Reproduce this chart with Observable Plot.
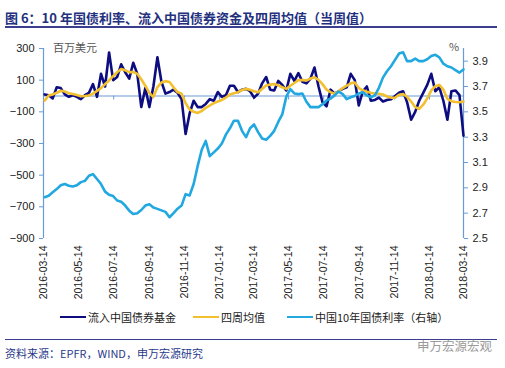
<!DOCTYPE html>
<html><head><meta charset="utf-8">
<script src="https://cdn.jsdelivr.net/npm/d3@7"></script>
<script src="https://cdn.jsdelivr.net/npm/@observablehq/plot@0.6"></script>
<style>
body{margin:0;background:#fff;}
#wrap{position:relative;width:505px;height:368px;overflow:hidden;background:#fff;font-family:"Liberation Sans",Arial,"Noto Sans CJK SC",sans-serif;}
#title{position:absolute;left:5px;top:10px;font:bold 13px/16px "Noto Sans CJK SC","Liberation Sans",sans-serif;color:#23307e;white-space:nowrap;}
.hr{position:absolute;left:5px;width:492px;height:1.5px;background:#3b3d8f;}
#chart{position:absolute;left:0;top:30px;}
.unit{position:absolute;font:11px "Noto Sans CJK SC",sans-serif;color:#555;white-space:nowrap;}
#legend{position:absolute;top:309px;left:0;width:505px;height:16px;}
.li{position:absolute;top:0;height:16px;display:flex;align-items:center;font:11px/16px "Noto Sans CJK SC",sans-serif;color:#222;white-space:nowrap;}
.li span.sw{display:inline-block;width:26px;height:2.5px;margin-right:2px;}
#source{position:absolute;left:5px;top:345px;font:11px/16px "Noto Sans CJK SC",sans-serif;color:#2a3a8a;white-space:nowrap;}
#wm{position:absolute;left:417px;top:338px;font:12.5px/16px "Noto Sans CJK SC",sans-serif;color:#9a9a9a;white-space:nowrap;}
</style></head><body>
<div id="wrap">
  <div id="title">图 6：10 年国债利率、流入中国债券资金及四周均值（当周值）</div>
  <div class="hr" style="top:26px"></div>
  <div id="chart"></div>
  <div class="unit" style="left:53px;top:39px">百万美元</div>
  <div class="unit" style="left:449px;top:38px">%</div>
  <div id="legend"></div>
  <div class="hr" style="top:339px;height:1.2px"></div>
  <div id="source">资料来源：EPFR，WIND，申万宏源研究</div>
  <div id="wm">申万宏源宏观</div>
</div>
<script>
// ---- data (weekly, starting 2016-03-16) ----
const startDate = "2016-03-16";
const flowValues = [10,5,-15,55,50,10,-5,5,-5,-20,5,20,75,-5,140,60,275,100,120,200,150,110,210,140,-70,50,-70,60,245,90,15,25,40,20,-20,-240,-110,-30,-70,-70,-50,-20,-30,25,-5,5,65,65,25,40,45,30,-10,15,80,120,40,35,95,70,35,140,95,145,90,80,110,180,60,-40,-65,40,15,30,45,55,140,100,-60,30,60,-30,-25,-10,-35,-25,-20,0,20,30,-40,-150,-100,-30,20,70,140,30,55,-30,-150,30,35,5,-250];
const avgValues = [-29,3,10,20,33,28,18,12,6,-2,0,3,15,32,50,75,98,125,150,170,162,151,152,140,105,65,20,-7,56,85,94,88,55,25,14,-45,-85,-100,-107,-95,-75,-60,-45,-35,-25,-10,10,18,24,38,45,40,30,24,45,66,72,76,68,55,45,65,82,100,100,98,110,118,102,75,40,24,14,30,50,66,80,85,50,36,27,20,14,14,10,-3,-10,-11,8,12,-5,-35,-70,-81,-55,-15,35,62,70,40,-18,-33,-38,-39,-35];
const yieldValues = [2.826,2.838,2.865,2.89,2.92,2.93,2.917,2.91,2.92,2.945,2.955,2.995,3.008,2.97,2.93,2.87,2.845,2.835,2.8,2.79,2.76,2.72,2.694,2.7,2.725,2.76,2.77,2.745,2.734,2.722,2.71,2.668,2.70,2.735,2.76,2.85,2.84,2.93,3.073,3.2,3.27,3.15,3.18,3.21,3.25,3.32,3.37,3.43,3.43,3.35,3.30,3.37,3.40,3.34,3.29,3.28,3.31,3.35,3.42,3.48,3.62,3.68,3.645,3.64,3.645,3.58,3.537,3.537,3.537,3.56,3.59,3.605,3.63,3.66,3.64,3.60,3.615,3.625,3.645,3.655,3.63,3.615,3.63,3.69,3.77,3.82,3.86,3.91,3.96,3.97,3.90,3.90,3.92,3.90,3.90,3.915,3.94,3.95,3.93,3.88,3.86,3.85,3.83,3.81,3.835];
const seriesNames = ["流入中国债券基金","四周均值","中国10年国债利率（右轴）"];
const seriesColors = ["#0d0d80","#f2bf2f","#22a8e0"];
const leftTicks = [300,100,-100,-300,-500,-700,-900];
const rightTicks = [3.9,3.7,3.5,3.3,3.1,2.9,2.7,2.5];
const xTickLabels = ["2016-03-14","2016-05-14","2016-07-14","2016-09-14","2016-11-14","2017-01-14","2017-03-14","2017-05-14","2017-07-14","2017-09-14","2017-11-14","2018-01-14","2018-03-14"];

// ---- build ----
const axisColor = "#6b9bd6";
const leftDomain = [-900, 300];
const rightDomain = [2.5, 4.0];
const toLeft = v => leftDomain[0] + (v - rightDomain[0]) / (rightDomain[1] - rightDomain[0]) * (leftDomain[1] - leftDomain[0]);
const fromLeft = v => rightDomain[0] + (v - leftDomain[0]) / (leftDomain[1] - leftDomain[0]) * (rightDomain[1] - rightDomain[0]);
const t0 = new Date(startDate + "T00:00:00Z");
const dateAt = i => new Date(t0.getTime() + i * 7 * 864e5);
const flow = flowValues.map((v, i) => ({date: dateAt(i), v}));
const avg = avgValues.map((v, i) => ({date: dateAt(i), v}));
const yld = yieldValues.map((v, i) => ({date: dateAt(i), v}));
const xTicks = xTickLabels.map(s => new Date(s + "T00:00:00Z"));
const xDomain = [xTicks[0], xTicks[xTicks.length - 1]];

const chart = Plot.plot({
  width: 505, height: 275,
  marginTop: 18, marginBottom: 67, marginLeft: 43, marginRight: 42,
  style: {fontFamily: "Liberation Sans, Arial, sans-serif", fontSize: "11px", color: "#222", background: "white"},
  x: {type: "utc", domain: xDomain},
  y: {domain: leftDomain},
  marks: [
    Plot.ruleY([0], {stroke: axisColor, strokeWidth: 1}),
    Plot.ruleX(xTicks, {x: d => d, y1: 0, y2: 0, insetBottom: -4, stroke: axisColor}),
    Plot.ruleX([xDomain[0]], {stroke: axisColor, strokeWidth: 1.2}),
    Plot.ruleX([xDomain[1]], {stroke: axisColor, strokeWidth: 1.2}),
    Plot.axisY({anchor: "left", ticks: leftTicks, tickSize: 4, tickPadding: 5, stroke: axisColor, fill: "#222", label: null, fontSize: 11}),
    Plot.axisY({anchor: "right", ticks: rightTicks.map(toLeft), tickFormat: v => fromLeft(v).toFixed(1), tickSize: 4, tickPadding: 5, stroke: axisColor, fill: "#222", label: null, fontSize: 11}),
    Plot.axisX({anchor: "bottom", ticks: xTicks, tickFormat: d3.utcFormat("%Y-%m-%d"), tickRotate: -90, tickSize: 0, tickPadding: 7, label: null, fill: "#222", fontSize: 10.5}),
    Plot.line(flow, {x: "date", y: "v", stroke: seriesColors[0], strokeWidth: 2.6}),
    Plot.line(avg, {x: "date", y: "v", stroke: seriesColors[1], strokeWidth: 2.6}),
    Plot.line(yld, {x: "date", y: d => toLeft(d.v), stroke: seriesColors[2], strokeWidth: 2.6})
  ]
});
document.getElementById("chart").appendChild(chart);

// legend
const legendX = [60, 193, 287];
const legend = document.getElementById("legend");
seriesNames.forEach((name, i) => {
  const it = document.createElement("div");
  it.className = "li";
  it.style.left = legendX[i] + "px";
  const sw = document.createElement("span");
  sw.className = "sw";
  sw.style.background = seriesColors[i];
  it.appendChild(sw);
  it.appendChild(document.createTextNode(name));
  legend.appendChild(it);
});
</script>
</body></html>
